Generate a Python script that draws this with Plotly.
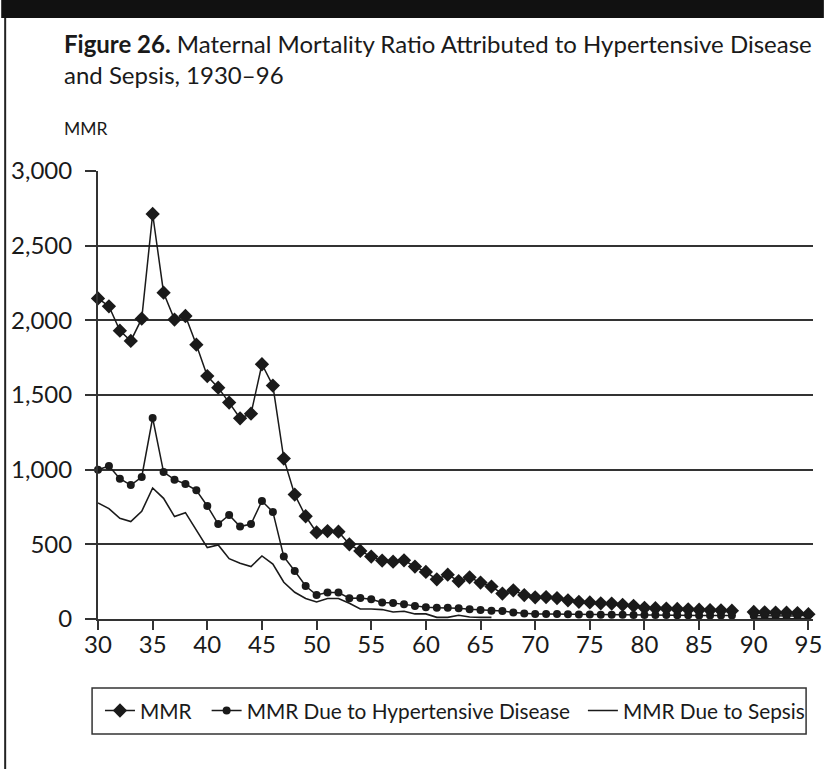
import plotly.graph_objects as go

# ---------------- data ----------------
years = list(range(30, 96))

mmr = [2147, 2094, 1931, 1862, 2011, 2712, 2185, 2005, 2029, 1837,
       1627, 1549, 1449, 1344, 1375, 1706, 1563, 1074, 833, 688,
       580, 589, 585, 500, 456, 418, 391, 384, 393, 351,
       315, 266, 297, 254, 279, 244, 217, 170, 192, 160,
       145, 147, 140, 125, 115, 111, 105, 103, 95, 88,
       75, 72, 70, 67, 65, 62, 60, 58, 56, None,
       47, 45, 43, 42, 40, 32]

hyper = [1000, 1025, 940, 897, 951, 1346, 984, 933, 904, 862,
         757, 636, 697, 619, 636, 790, 717, 418, 321, 221,
         161, 177, 177, 139, 140, 132, 110, 107, 98, 87,
         78, 76, 76, 72, 65, 60, 56, 54, 43, 36,
         34, 34, 33, 32, 30, 30, 29, 28, 28, 27,
         27, 26, 26, 25, 25, 24, 24, 24, 23, None,
         22, 21, 20, 20, 20, 26]

sepsis = [777, 739, 674, 652, 721, 877, 808, 686, 712, 599,
          478, 496, 404, 373, 351, 422, 368, 246, 179, 137,
          114, 137, 137, 105, 67, 67, 63, 47, 52, 34,
          34, 11, 11, 25, 13, 11, 11, None, None, None,
          None, None, None, None, None, None, None, None, None, None,
          None, None, None, None, None, None, None, None, None, None,
          5, 2, 1, 1, 2, 5]

x_ticks = list(range(30, 96, 5))
y_ticks = [0, 500, 1000, 1500, 2000, 2500, 3000]
y_labels = ["0", "500", "1,000", "1,500", "2,000", "2,500", "3,000"]

series_names = ["MMR", "MMR Due to Hypertensive Disease", "MMR Due to Sepsis"]

# ---------------- layout geometry ----------------
W, H = 833, 769
L, R, T, B = 98, 11, 171, 150
PW, PH = W - L - R, H - T - B

def px(xp):
    return (xp - L) / PW

def py(yp):
    return (H - B - yp) / PH

FONT = "Lato"
INK = "#1a1a1a"

fig = go.Figure()
fig.add_trace(go.Scatter(
    x=years, y=mmr, name=series_names[0], mode="lines+markers",
    line=dict(color=INK, width=1.5),
    marker=dict(symbol="diamond", size=11, color=INK),
    cliponaxis=False, connectgaps=False, legend="legend"))
fig.add_trace(go.Scatter(
    x=years, y=hyper, name=series_names[1], mode="lines+markers",
    line=dict(color=INK, width=1.5),
    marker=dict(symbol="circle", size=8, color=INK),
    cliponaxis=False, connectgaps=False, legend="legend2"))
fig.add_trace(go.Scatter(
    x=years, y=sepsis, name=series_names[2], mode="lines",
    line=dict(color=INK, width=1.6),
    cliponaxis=False, connectgaps=False, legend="legend3"))

def leg(xpix):
    return dict(
        orientation="h", x=px(xpix), y=py(711), xanchor="left", yanchor="middle",
        font=dict(size=20.8, family=FONT, color=INK),
        bgcolor="rgba(0,0,0,0)", borderwidth=0, itemsizing="trace",
    )

fig.update_layout(
    width=W, height=H,
    margin=dict(l=L, r=R, t=T, b=B, pad=0),
    paper_bgcolor="white", plot_bgcolor="white",
    font=dict(family=FONT, color=INK, size=21),
    showlegend=True,
    legend=leg(100),
    legend2=leg(208),
    legend3=leg(589),
    xaxis=dict(
        range=[30, 95.42], tickmode="array", tickvals=x_ticks,
        ticktext=[str(v) for v in x_ticks],
        ticks="outside", ticklen=9, tickwidth=1.5, tickcolor="#333",
        showline=True, linecolor="#333", linewidth=1.5,
        showgrid=False, zeroline=False,
        tickfont=dict(size=24, family=FONT, color=INK),
        ticklabelstandoff=-6,
    ),
    yaxis=dict(
        range=[0, 3000], tickmode="array", tickvals=y_ticks, ticktext=y_labels,
        ticks="outside", ticklen=11, tickwidth=1.5, tickcolor="#333",
        showline=True, linecolor="#333", linewidth=2,
        showgrid=True, gridcolor="#333", gridwidth=1.5, zeroline=False,
        tickfont=dict(size=24, family=FONT, color=INK),
        ticklabelstandoff=8,
    ),
)

# title (two lines) and axis label
fig.add_annotation(
    xref="paper", yref="paper", x=px(62), y=py(59), xanchor="left", yanchor="middle",
    align="left",
    text="<b>Figure 26.</b> Maternal Mortality Ratio Attributed to Hypertensive Disease"
         "<br>and Sepsis, 1930–96",
    showarrow=False, font=dict(size=24, family=FONT, color=INK))
fig.add_annotation(
    xref="paper", yref="paper", x=px(62), y=py(128), xanchor="left", yanchor="middle",
    text="MMR", showarrow=False, font=dict(size=17.5, family=FONT, color=INK))

# decorative frame: top black band, left rule, legend box
fig.add_shape(type="rect", xref="paper", yref="paper",
              x0=px(0), x1=px(W), y0=py(0), y1=py(18),
              fillcolor="#111", line=dict(width=0), layer="above")
fig.add_shape(type="line", xref="paper", yref="paper",
              x0=px(4), x1=px(4), y0=py(18), y1=py(H),
              line=dict(color="#222", width=2))
fig.add_shape(type="rect", xref="paper", yref="paper",
              x0=px(92), x1=px(815), y0=py(688), y1=py(734),
              line=dict(color="#333", width=1.5), fillcolor="rgba(0,0,0,0)")

# remove the browser's default page margin so the figure sits at (0, 0)
fig.write_html("out.html",
               config={"displayModeBar": False},
               post_script="document.body.style.margin='0';document.body.style.overflow='hidden';")
